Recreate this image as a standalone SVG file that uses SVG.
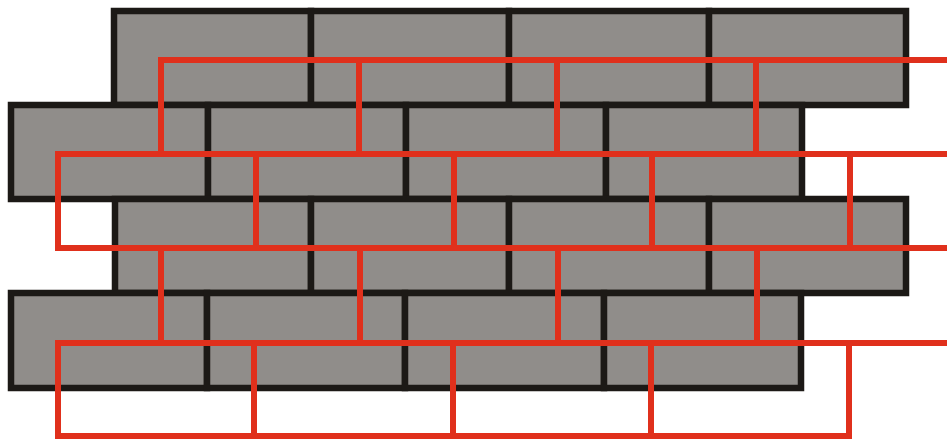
<svg xmlns="http://www.w3.org/2000/svg" width="947" height="439" viewBox="0 0 947 439">
<style>
.b{fill:#908d8a;stroke:#1c1916;stroke-width:6.5;stroke-linejoin:miter}
.r{fill:none;stroke:#e0301c;stroke-width:6;stroke-linecap:square}
</style>
<rect width="947" height="439" fill="#fff"/>
<g id="bricks">
<g id="row1">
<rect class="b" x="114" y="11" width="197" height="94"/>
<rect class="b" x="311" y="11" width="198" height="94"/>
<rect class="b" x="509" y="11" width="200" height="94"/>
<rect class="b" x="709" y="11" width="197" height="94"/>
</g>
<g id="row2">
<rect class="b" x="11" y="105" width="197" height="94"/>
<rect class="b" x="208" y="105" width="198" height="94"/>
<rect class="b" x="406" y="105" width="200" height="94"/>
<rect class="b" x="606" y="105" width="196" height="94"/>
</g>
<g id="row3">
<rect class="b" x="115" y="199" width="196" height="94"/>
<rect class="b" x="311" y="199" width="198" height="94"/>
<rect class="b" x="509" y="199" width="200" height="94"/>
<rect class="b" x="709" y="199" width="197" height="94"/>
</g>
<g id="row4">
<rect class="b" x="11" y="293" width="196" height="95"/>
<rect class="b" x="207" y="293" width="198" height="95"/>
<rect class="b" x="405" y="293" width="199" height="95"/>
<rect class="b" x="604" y="293" width="197" height="95"/>
</g>
</g>
<g id="red">
<path class="r" d="M161 60H950M58 154H950M58 248H950M58 343H950M58 436H849"/>
<path class="r" d="M161 60V154M359 60V154M557 60V154M756 60V154"/>
<path class="r" d="M58 154V248M256 154V248M454 154V248M652 154V248M850 154V248"/>
<path class="r" d="M161 248V343M360 248V343M558 248V343M757 248V343"/>
<path class="r" d="M58 343V436M254 343V436M453 343V436M651 343V436M849 343V436"/>
</g>
</svg>
